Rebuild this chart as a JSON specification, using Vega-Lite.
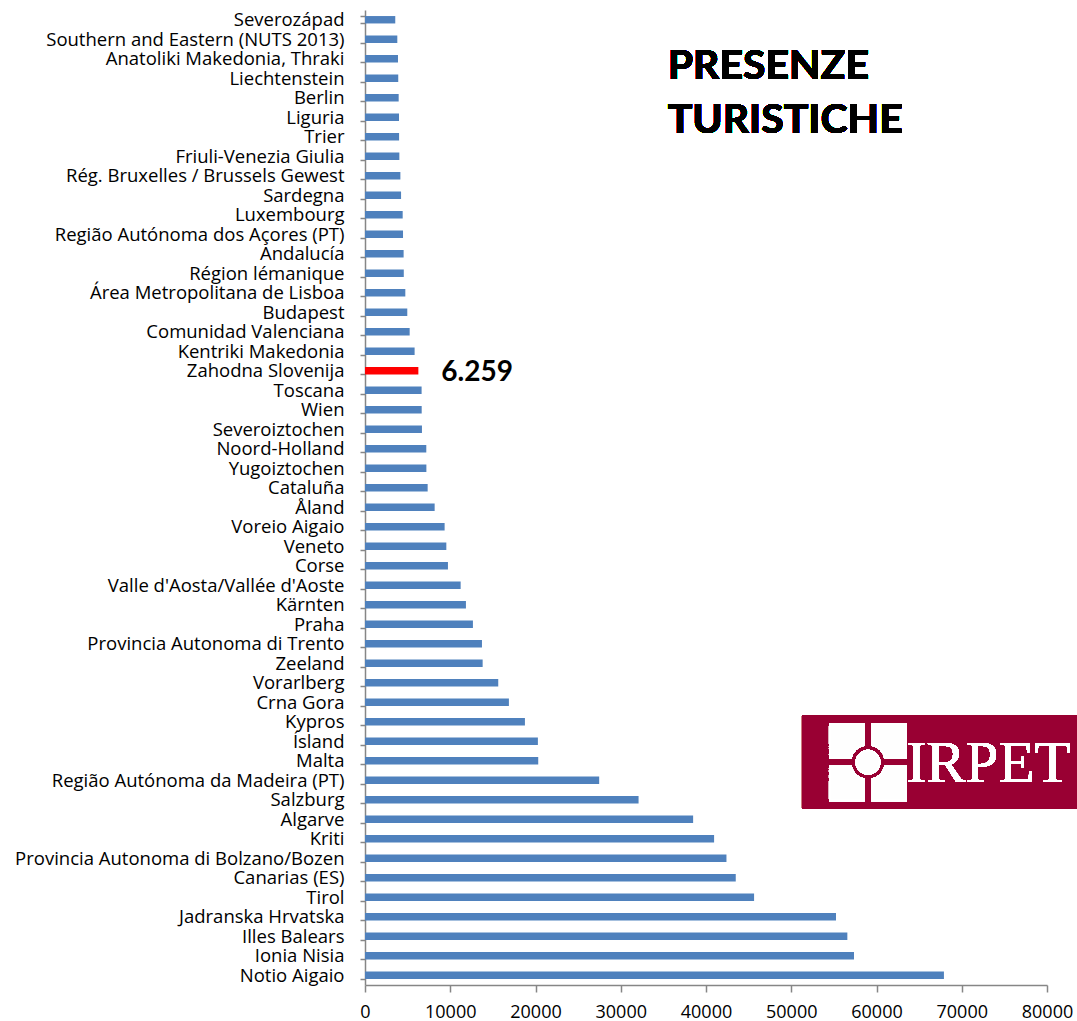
{
  "$schema": "https://vega.github.io/schema/vega-lite/v6.json",
  "autosize": {"type": "none"},
  "padding": {"left": 365, "top": 10, "right": 30, "bottom": 36},
  "width": 682,
  "height": 975,
  "background": "white",
  "config": {
    "view": {"stroke": null},
    "locale": {"number": {"decimal": ",", "thousands": ".", "grouping": [3], "currency": ["€", ""]}},
    "font": "Open Sans"
  },
  "data": {
    "values": [
      {"region": "Severozápad", "value": 3550},
      {"region": "Southern and Eastern (NUTS 2013)", "value": 3790},
      {"region": "Anatoliki Makedonia, Thraki", "value": 3870},
      {"region": "Liechtenstein", "value": 3900},
      {"region": "Berlin", "value": 3950},
      {"region": "Liguria", "value": 3990},
      {"region": "Trier", "value": 4000},
      {"region": "Friuli-Venezia Giulia", "value": 4030},
      {"region": "Rég. Bruxelles / Brussels Gewest", "value": 4150},
      {"region": "Sardegna", "value": 4230},
      {"region": "Luxembourg", "value": 4420},
      {"region": "Região Autónoma dos Açores (PT)", "value": 4460},
      {"region": "Andalucía", "value": 4530},
      {"region": "Région lémanique", "value": 4550},
      {"region": "Área Metropolitana de Lisboa", "value": 4730},
      {"region": "Budapest", "value": 4960},
      {"region": "Comunidad Valenciana", "value": 5240},
      {"region": "Kentriki Makedonia", "value": 5820},
      {"region": "Zahodna Slovenija", "value": 6259},
      {"region": "Toscana", "value": 6640},
      {"region": "Wien", "value": 6650},
      {"region": "Severoiztochen", "value": 6680},
      {"region": "Noord-Holland", "value": 7190},
      {"region": "Yugoiztochen", "value": 7200},
      {"region": "Cataluña", "value": 7350},
      {"region": "Åland", "value": 8170},
      {"region": "Voreio Aigaio", "value": 9340},
      {"region": "Veneto", "value": 9540},
      {"region": "Corse", "value": 9730},
      {"region": "Valle d'Aosta/Vallée d'Aoste", "value": 11220},
      {"region": "Kärnten", "value": 11840},
      {"region": "Praha", "value": 12660},
      {"region": "Provincia Autonoma di Trento", "value": 13720},
      {"region": "Zeeland", "value": 13800},
      {"region": "Vorarlberg", "value": 15630},
      {"region": "Crna Gora", "value": 16880},
      {"region": "Kypros", "value": 18760},
      {"region": "Ísland", "value": 20280},
      {"region": "Malta", "value": 20320},
      {"region": "Região Autónoma da Madeira (PT)", "value": 27470},
      {"region": "Salzburg", "value": 32090},
      {"region": "Algarve", "value": 38490},
      {"region": "Kriti", "value": 40950},
      {"region": "Provincia Autonoma di Bolzano/Bozen", "value": 42400},
      {"region": "Canarias (ES)", "value": 43490},
      {"region": "Tirol", "value": 45640},
      {"region": "Jadranska Hrvatska", "value": 55250},
      {"region": "Illes Balears", "value": 56580},
      {"region": "Ionia Nisia", "value": 57360},
      {"region": "Notio Aigaio", "value": 67910}
    ]
  },
  "encoding": {
    "y": {
      "field": "region",
      "type": "nominal",
      "sort": null,
      "scale": {"paddingInner": 0.62, "paddingOuter": 0.31},
      "axis": {
        "title": null,
        "tickBand": "extent",
        "tickSize": 5,
        "tickColor": "#868686",
        "tickWidth": 1.5,
        "domainColor": "#868686",
        "domainWidth": 1.5,
        "labelPadding": 16,
        "labelFont": "Open Sans",
        "labelFontSize": 18.5,
        "labelColor": "black",
        "labelLimit": 400
      }
    }
  },
  "layer": [
    {
      "mark": {"type": "bar"},
      "encoding": {
        "x": {
          "field": "value",
          "type": "quantitative",
          "scale": {"domain": [0, 80000], "nice": false},
          "axis": {
            "title": null,
            "values": [0, 10000, 20000, 30000, 40000, 50000, 60000, 70000, 80000],
            "format": "d",
            "grid": false,
            "labelFlush": false,
            "labelOverlap": false,
            "tickSize": 7,
            "tickColor": "#868686",
            "tickWidth": 1.5,
            "domainColor": "#868686",
            "domainWidth": 1.5,
            "labelPadding": 11,
            "labelFont": "Open Sans",
            "labelFontSize": 18,
            "labelColor": "black"
          }
        },
        "color": {
          "condition": {"test": "datum.region === 'Zahodna Slovenija'", "value": "#FF0000"},
          "value": "#4F81BD"
        }
      }
    },
    {
      "transform": [{"filter": "datum.region === 'Zahodna Slovenija'"}],
      "mark": {"type": "text", "align": "left", "baseline": "middle", "dx": 23, "dy": 2, "font": "Lato", "fontSize": 28, "fontWeight": "bold", "color": "black"},
      "encoding": {
        "x": {"field": "value", "type": "quantitative"},
        "text": {"field": "value", "type": "quantitative", "format": ",d"}
      }
    },
    {
      "mark": {"type": "text", "align": "left", "baseline": "alphabetic", "dy": 20, "font": "Lato", "fontSize": 41, "fontWeight": "bold", "color": "black"},
      "encoding": {
        "x": {"datum": 35500, "type": "quantitative"},
        "y": {"datum": "Anatoliki Makedonia, Thraki", "type": "nominal", "bandPosition": 0.5},
        "text": {"value": "PRESENZE"}
      }
    },
    {
      "mark": {"type": "text", "align": "left", "baseline": "alphabetic", "dy": -4, "font": "Lato", "fontSize": 41, "fontWeight": "bold", "color": "black"},
      "encoding": {
        "x": {"datum": 35500, "type": "quantitative"},
        "y": {"datum": "Trier", "type": "nominal", "bandPosition": 0.5},
        "text": {"value": "TURISTICHE"}
      }
    },
    {
      "mark": {"type": "rect", "color": "#990033"},
      "encoding": {
        "x": {"datum": 51260, "type": "quantitative"},
        "x2": {"datum": 84000},
        "y": {"datum": "Kypros", "type": "nominal", "bandPosition": -0.31},
        "y2": {"datum": "Salzburg", "bandPosition": 1.64}
      }
    },
    {
      "mark": {"type": "text", "align": "center", "baseline": "middle", "font": "Liberation Serif", "fontSize": 59, "color": "white", "dy": 3},
      "encoding": {
        "x": {"datum": 73140, "type": "quantitative"},
        "y": {"datum": "Malta", "type": "nominal", "bandPosition": 0.5},
        "text": {"value": "IRPET"}
      }
    },
    {
      "mark": {
        "type": "point",
        "shape": "M-1,-1H-0.12V-0.45A0.45,0.45 0 0,0 -0.45,-0.12H-1Z M0.12,-1H1V-0.12H0.45A0.45,0.45 0 0,0 0.12,-0.45Z M-1,0.12H-0.45A0.45,0.45 0 0,0 -0.12,0.45V1H-1Z M0.12,0.45A0.45,0.45 0 0,0 0.45,0.12H1V1H0.12Z M0.3,0A0.3,0.3 0 1,1 -0.3,0A0.3,0.3 0 1,1 0.3,0Z",
        "size": 5776,
        "filled": true,
        "fill": "white",
        "fillOpacity": 0.4,
        "stroke": "white",
        "strokeWidth": 2,
        "opacity": 1
      },
      "encoding": {
        "x": {"datum": 59000, "type": "quantitative"},
        "y": {"datum": "Malta", "type": "nominal", "bandPosition": 0.7}
      }
    }
  ]
}
